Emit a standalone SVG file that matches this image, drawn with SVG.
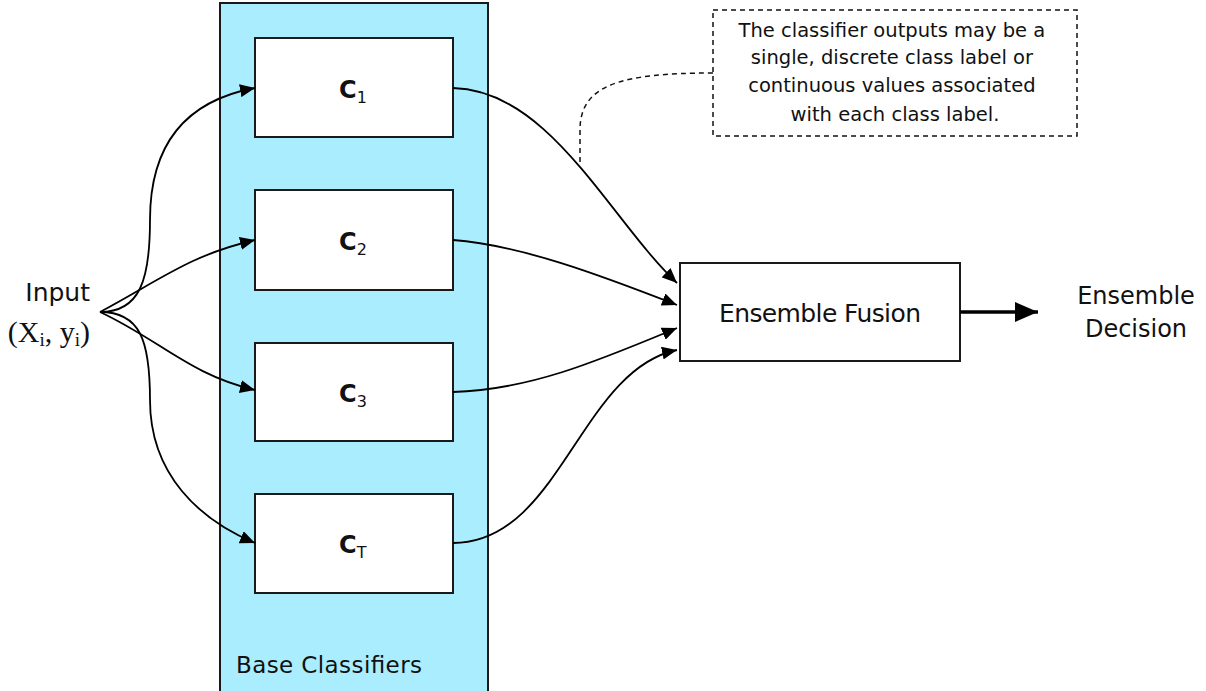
<svg xmlns="http://www.w3.org/2000/svg" width="1206" height="691" viewBox="0 0 1206 691">
<style>
.box{fill:#fff;stroke:#1a1a1a;stroke-width:2}
.conn{fill:none;stroke:#000;stroke-width:1.8}
.lbl{font-family:"DejaVu Sans","Liberation Sans",sans-serif;fill:#111}
.cl{font-family:"DejaVu Sans","Liberation Sans",sans-serif;font-weight:bold;fill:#111;font-size:24px}
.sub{font-size:16px;font-weight:normal}
</style>
<defs>
<marker id="ah" viewBox="0 0 15 13" refX="15" refY="6.5" markerWidth="15" markerHeight="13" orient="auto" markerUnits="userSpaceOnUse"><path d="M0,0 L15,6.5 L0,13 Z" fill="#000"/></marker>
<marker id="ahBig" viewBox="0 0 23 20" refX="23" refY="10" markerWidth="23" markerHeight="20" orient="auto" markerUnits="userSpaceOnUse"><path d="M0,0 L23,10 L0,20 Z" fill="#000"/></marker>
</defs>

<g id="base-classifiers">
<rect x="220" y="3" width="268" height="700" fill="#aaedfe" stroke="#1a1a1a" stroke-width="2"/>
<text class="lbl" x="236" y="673" font-size="23" textLength="186" lengthAdjust="spacing">Base Classifiers</text>
</g>

<g id="input">
<text class="lbl" x="90" y="301" font-size="25" text-anchor="end">Input</text>
<text x="90" y="342" font-family="'Liberation Serif','Times New Roman',serif" font-size="30" fill="#111" text-anchor="end">(X<tspan font-size="19" dy="4">i</tspan><tspan dy="-4">, y</tspan><tspan font-size="19" dy="4">i</tspan><tspan dy="-4">)</tspan></text>
</g>

<g id="c1">
<rect class="box" x="255" y="38" width="198" height="99"/>
<text class="cl" x="339" y="98">C<tspan class="sub" dy="5">1</tspan></text>
</g>
<g id="c2">
<rect class="box" x="255" y="190" width="198" height="100"/>
<text class="cl" x="339" y="250">C<tspan class="sub" dy="5">2</tspan></text>
</g>
<g id="c3">
<rect class="box" x="255" y="343" width="198" height="98"/>
<text class="cl" x="339" y="402">C<tspan class="sub" dy="5">3</tspan></text>
</g>
<g id="ct">
<rect class="box" x="255" y="494" width="198" height="99"/>
<text class="cl" x="339" y="553">C<tspan class="sub" dy="5">T</tspan></text>
</g>

<g id="ensemble-fusion">
<rect class="box" x="680" y="263" width="280" height="98"/>
<text class="lbl" x="820" y="322" font-size="25" text-anchor="middle" textLength="202" lengthAdjust="spacing">Ensemble Fusion</text>
</g>

<g id="ensemble-decision">
<text class="lbl" x="1136" y="304" font-size="24" text-anchor="middle">Ensemble</text>
<text class="lbl" x="1136" y="337" font-size="24" text-anchor="middle">Decision</text>
</g>

<g id="note">
<rect x="713" y="10" width="364" height="126" fill="#fff" stroke="#111" stroke-width="1.5" stroke-dasharray="5,4"/>
<text class="lbl" font-size="19.5" text-anchor="middle">
<tspan x="895" y="37">The classifier outputs may be a</tspan>
<tspan x="895" y="64">single, discrete class label or</tspan>
<tspan x="895" y="92">continuous values associated</tspan>
<tspan x="895" y="121">with each class label.</tspan>
</text>
</g>

<g id="connectors">
<path class="conn" marker-end="url(#ah)" d="M100,312 C140,312 150,280 150,220 C150,140 190,100 255,88"/>
<path class="conn" marker-end="url(#ah)" d="M100,312 C160,280 190,255 255,240"/>
<path class="conn" marker-end="url(#ah)" d="M100,312 C160,340 190,375 255,390"/>
<path class="conn" marker-end="url(#ah)" d="M100,312 C140,312 150,340 150,400 C150,475 200,520 255,543"/>
<path class="conn" marker-end="url(#ah)" d="M453,88 C550,90 610,220 677,283"/>
<path class="conn" marker-end="url(#ah)" d="M453,240 C520,245 600,275 677,305"/>
<path class="conn" marker-end="url(#ah)" d="M453,392 C530,390 600,360 677,328"/>
<path class="conn" marker-end="url(#ah)" d="M453,543 C560,543 580,370 677,350"/>
<path fill="none" stroke="#000" stroke-width="3.5" marker-end="url(#ahBig)" d="M960,312 L1038,312"/>
<path fill="none" stroke="#111" stroke-width="1.5" stroke-dasharray="5,4" d="M713,73 C620,73 580,85 580,130 L580,162"/>
</g>
</svg>
